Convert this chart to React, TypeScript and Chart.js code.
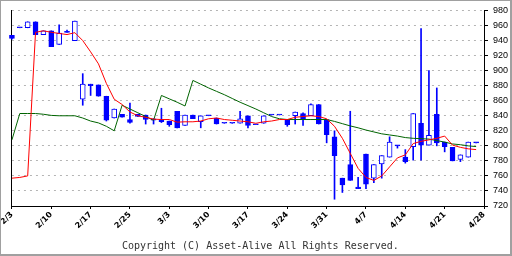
import React, { useEffect, useRef } from "react";
import { Chart, registerables } from "chart.js";

Chart.register(...registerables);

const tickLabels = ["2/3", "2/10", "2/17", "2/25", "3/3", "3/10", "3/17", "3/24", "3/31", "4/7", "4/14", "4/21", "4/28"];

const opens = [947, 957, 957, 965, 948, 953, 935, 951, 940, 862, 882, 881, 866, 837, 842, 835, 842, 841, 836, 835,
  833, 846, 827, 841, 832, 840, 837, 830, 830, 830, 840, 828, 830, 841, 841, 835, 840, 843, 840, 855,
  835, 812, 757, 775, 745, 789, 757, 776, 785, 800, 785, 799, 830, 801, 842, 805, 798, 782, 785, 804];
const highs = [947, 957, 965, 965, 953, 953, 961, 954, 966, 896, 882, 881, 866, 849, 842, 857, 842, 841, 836, 850,
  833, 846, 841, 841, 840, 840, 837, 830, 830, 846, 840, 828, 840, 841, 841, 835, 845, 844, 856, 855,
  835, 820, 757, 846, 758, 789, 775, 787, 812, 800, 795, 843, 956, 900, 877, 805, 798, 788, 805, 804];
const lows = [942, 957, 957, 948, 948, 932, 935, 951, 940, 854, 867, 866, 833, 837, 838, 830, 839, 829, 829, 831,
  826, 824, 827, 836, 824, 840, 829, 830, 830, 830, 824, 828, 830, 841, 841, 826, 829, 827, 840, 829,
  804, 729, 738, 754, 743, 743, 751, 757, 785, 797, 777, 781, 781, 801, 800, 792, 780, 779, 785, 804];
const closes = [943, 957, 965, 948, 953, 932, 950, 951, 966, 882, 880, 866, 834, 849, 838, 831, 839, 835, 834, 832,
  828, 824, 841, 836, 840, 840, 829, 830, 830, 836, 827, 828, 840, 841, 841, 828, 845, 836, 855, 829,
  815, 787, 748, 754, 743, 749, 775, 787, 805, 800, 779, 843, 801, 814, 804, 799, 780, 788, 805, 804];

const shortMA = [757, 758, 760, 951, 953, 951, 949.5, 948, 950.5, 940, 925, 909, 883, 862, 855, 845, 840, 838, 835.5, 835,
  835, 831.5, 832, 832, 833, 836, 837, 835, 834, 833, 832, 830, 832, 833, 835, 835, 838, 839, 840, 839,
  836, 826, 810, 790, 770, 758, 754, 760, 772, 784, 788, 803, 806, 808, 810, 813, 801, 798, 796, 795];
const longMA = [808, 843, 843, 843, 842, 840.5, 840, 840, 840, 837, 833, 830.5, 826, 820, 854, 849, 844, 839, 834, 867,
  862.5, 858, 853, 887, 882, 877, 872.5, 868, 863, 858, 853.5, 849, 844, 839, 836, 835, 835, 835, 835, 835,
  835, 832.5, 829.5, 826.5, 824, 821, 818.5, 816, 814.5, 813, 811, 810, 809.5, 809, 807, 805, 802.5, 801.5, 800, 799];

const STEP = 5;
const categories = Array.from({ length: (tickLabels.length - 1) * STEP + 1 }, (_, i) =>
  i % STEP === 0 ? tickLabels[i / STEP] : ""
);

const BLUE = "#0000ff";

export default function App() {
  const ref = useRef<HTMLCanvasElement | null>(null);

  useEffect(() => {
    document.body.style.margin = "0";
    const canvas = ref.current;
    if (!canvas) return;
    const chart = new Chart(canvas, {
      type: "bar",
      data: {
        labels: categories,
        datasets: [
          {
            type: "line",
            label: "long",
            data: longMA,
            borderColor: "#006400",
            borderWidth: 1,
            pointRadius: 0,
            tension: 0,
            order: 1,
          } as any,
          {
            type: "line",
            label: "short",
            data: shortMA,
            borderColor: "#ff0000",
            borderWidth: 1,
            pointRadius: 0,
            tension: 0,
            order: 0,
          } as any,
          {
            type: "bar",
            label: "body",
            data: opens.map((o, i) => [o, closes[i]]),
            backgroundColor: opens.map((o, i) => (closes[i] > o ? "#ffffff" : BLUE)),
            borderColor: BLUE,
            borderWidth: 1,
            borderSkipped: false,
            barThickness: 5,
            minBarLength: 1,
            grouped: false,
            clip: false,
            order: 2,
          } as any,
          {
            type: "bar",
            label: "wick",
            data: lows.map((l, i) => [l, highs[i]]),
            backgroundColor: BLUE,
            borderWidth: 0,
            barThickness: 1,
            grouped: false,
            clip: false,
            order: 3,
          } as any,
        ],
      },
      options: {
        responsive: false,
        animation: false,
        events: [],
        layout: { padding: { left: 9.7, top: 4.7, right: 0, bottom: 0 } },
        plugins: {
          legend: { display: false },
          tooltip: { enabled: false },
          title: {
            display: true,
            position: "bottom",
            text: "Copyright (C) Asset-Alive All Rights Reserved.",
            color: "#333333",
            font: { family: "'DejaVu Sans Mono', monospace", size: 10, weight: "normal", lineHeight: 1.2 },
            padding: { top: 2, bottom: 2 },
          },
        },
        scales: {
          x: {
            type: "category",
            offset: false,
            grid: {
              display: true,
              drawOnChartArea: false,
              offset: false,
              tickLength: 3,
              tickColor: "#000000",
            },
            border: { display: true, color: "#000000", width: 1 },
            ticks: {
              autoSkip: false,
              maxRotation: 45,
              minRotation: 45,
              padding: 1,
              color: "#000000",
              font: { family: "'DejaVu Sans', sans-serif", size: 8, weight: "bold" },
              callback: (_v: any, idx: number) => (categories[idx] ? categories[idx] : null),
            },
            afterFit: (s: any) => {
              s.height = 32;
            },
          },
          y: {
            type: "linear",
            position: "right",
            min: 720,
            max: 980,
            grid: {
              color: "#b4b4b4",
              lineWidth: 1,
              drawTicks: true,
              tickLength: 4,
              tickColor: "#000000",
              tickWidth: 1,
            },
            border: { display: true, color: "#000000", width: 1, dash: [2, 4] },
            ticks: {
              stepSize: 20,
              padding: 5,
              color: "#000000",
              font: { family: "'Liberation Sans Narrow', 'Liberation Sans', sans-serif", size: 9, lineHeight: 1 },
            },
            afterFit: (s: any) => {
              s.width = 26;
            },
          },
          yL: {
            type: "linear",
            position: "left",
            min: 720,
            max: 980,
            grid: { display: false, drawTicks: false },
            border: { display: true, color: "#000000", width: 1 },
            ticks: { display: false },
            afterFit: (s: any) => {
              s.width = 0;
            },
          },
        },
      } as any,
    });
    return () => chart.destroy();
  }, []);

  return (
    <div
      style={{
        position: "absolute",
        left: 0,
        top: 0,
        width: 512,
        height: 256,
        boxSizing: "border-box",
        borderTop: "1px solid #a0a0a0",
        borderLeft: "1px solid #a0a0a0",
        borderRight: "2px solid #a0a0a0",
        borderBottom: "2px solid #a0a0a0",
        background: "#ffffff",
      }}
    >
      <canvas ref={ref} width={509} height={253} style={{ display: "block" }} />
    </div>
  );
}
